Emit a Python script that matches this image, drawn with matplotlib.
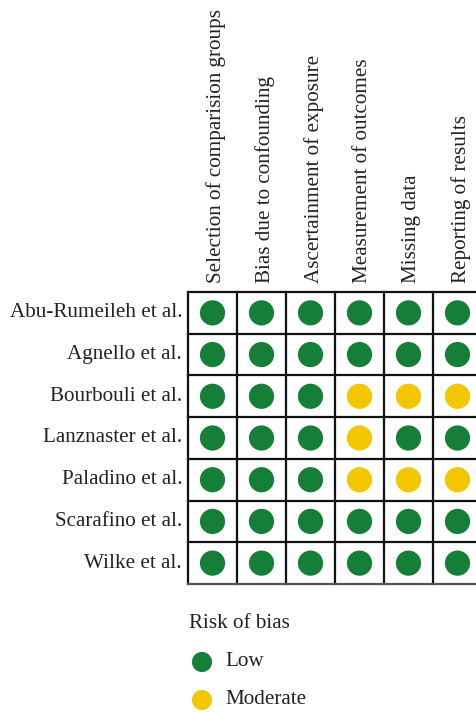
import matplotlib.pyplot as plt

studies = ["Abu-Rumeileh et al.", "Agnello et al.", "Bourbouli et al.", "Lanznaster et al.",
           "Paladino et al.", "Scarafino et al.", "Wilke et al."]
domains = ["Selection of comparision groups", "Bias due to confounding",
           "Ascertainment of exposure", "Measurement of outcomes",
           "Missing data", "Reporting of results"]
# L = low, M = moderate
ratings = [
    ["L", "L", "L", "L", "L", "L"],
    ["L", "L", "L", "L", "L", "L"],
    ["L", "L", "L", "M", "M", "M"],
    ["L", "L", "L", "M", "L", "L"],
    ["L", "L", "L", "M", "M", "M"],
    ["L", "L", "L", "L", "L", "L"],
    ["L", "L", "L", "L", "L", "L"],
]
colors = {"L": "#167f37", "M": "#f2c600"}
legend_keys = ["L", "M"]
legend_labels = {"L": "Low", "M": "Moderate"}

plt.rcParams['font.family'] = ['Liberation Serif', 'DejaVu Serif']
FS = 15.2
TXT = '#222222'

W, H = 477, 712
fig = plt.figure(figsize=(W / 100, H / 100), dpi=100)

# grid axes (runs a little past the right edge)
x0, x1, y0, y1 = 188, 482, 292, 584
ax = fig.add_axes([x0 / W, 1 - y1 / H, (x1 - x0) / W, (y1 - y0) / H])
ax.set_xlim(0, len(domains))
ax.set_ylim(len(studies), 0)
ax.axis('off')

for i in range(len(domains) + 1):
    ax.axvline(i, color='#111111', lw=1.6, clip_on=False)
for j in range(len(studies) + 1):
    ax.axhline(j, color='#111111' if j < len(studies) else '#555555', lw=1.6, clip_on=False)

for r, row in enumerate(ratings):
    for c, val in enumerate(row):
        ax.scatter(c + 0.5, r + 0.5, s=330, color=colors[val], edgecolors='none', zorder=3)

for r, name in enumerate(studies):
    ax.text(-0.12, r + 0.5, name, ha='right', va='center', fontsize=FS, color=TXT)

for c, name in enumerate(domains):
    ax.text(c + 0.57, -0.22, name, rotation=90, ha='center', va='bottom',
            fontsize=FS, color=TXT)

# legend, drawn in pixel coordinates
lax = fig.add_axes([0, 0, 1, 1], zorder=-1)
lax.set_xlim(0, W)
lax.set_ylim(H, 0)
lax.axis('off')
lax.text(189, 623, "Risk of bias", ha='left', va='center', fontsize=FS, color=TXT)
for key, yy in zip(legend_keys, [662, 700]):
    lax.scatter(202, yy, s=210, color=colors[key], edgecolors='none')
    lax.text(225, yy, legend_labels[key], ha='left', va='center', fontsize=FS, color=TXT)

fig.savefig("out.png", dpi=100)
